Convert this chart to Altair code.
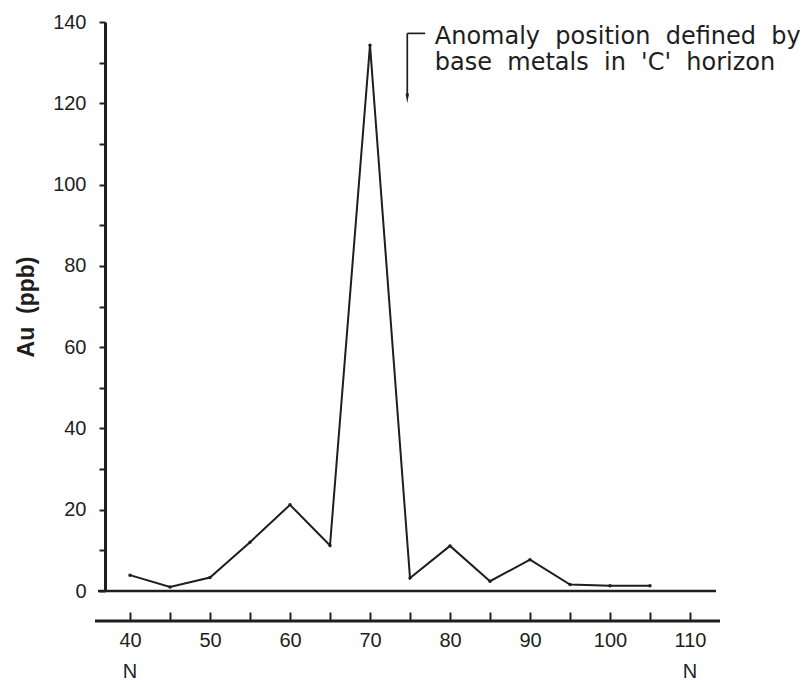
import altair as alt
import pandas as pd

# ---- data ----
stations = [40, 45, 50, 55, 60, 65, 70, 75, 80, 85, 90, 95, 100, 105]
au_ppb = [3.9, 1.0, 3.3, 12.0, 21.2, 11.2, 134.3, 3.2, 11.1, 2.4, 7.7, 1.6, 1.3, 1.3]
x_ticks = list(range(40, 111, 5))
y_ticks = list(range(0, 141, 10))
end_pos = [40, 110]
end_text = ["N", "N"]
NB = "\u00a0"
note_lines = [
    f"Anomaly{NB}{NB}position{NB}{NB}defined{NB}{NB}by",
    f"base{NB}{NB}metals{NB}{NB}in{NB}{NB}'C'{NB}{NB}horizon",
]
note_x = 78.1
note_y = [134.6, 128.3]
arrow_x = 74.66
arrow_top = 137.2
arrow_tip = 120.1
bracket_end = 76.9

X_DOM = [36.875, 113.5]
Y_DOM = [0, 140]
W, H = 613, 569

df = pd.DataFrame({"station": stations, "au": au_ppb})

xs = alt.Scale(domain=X_DOM, nice=False, zero=False)
ys = alt.Scale(domain=Y_DOM, nice=False, zero=False)

INK = "#1e1e1e"

xaxis = alt.Axis(
    values=x_ticks,
    labelExpr="datum.value % 10 == 0 ? datum.label : ''",
    offset=21, tickSize=8.5, tickWidth=2, tickColor=INK,
    domain=False, grid=False, labelPadding=10,
    labelFont="Liberation Sans", labelFontSize=20, labelColor=INK,
    title=None,
)
yaxis = alt.Axis(
    values=y_ticks,
    labelExpr="datum.value % 20 == 0 ? datum.label : ''",
    tickSize=6, tickWidth=2, tickColor=INK,
    domain=True, domainColor=INK, domainWidth=3, grid=False,
    labelPadding=13, labelFont="Liberation Sans", labelFontSize=20, labelColor=INK,
    title=f"Au{NB}{NB}(ppb)", titleFont="Liberation Sans", titleFontSize=23,
    titleFontWeight="bold", titleColor=INK, titlePadding=14,
)

line = alt.Chart(df).mark_line(
    color=INK, strokeWidth=2,
    point=alt.OverlayMarkDef(filled=True, color=INK, size=12),
).encode(
    x=alt.X("station:Q", scale=xs, axis=xaxis),
    y=alt.Y("au:Q", scale=ys, axis=yaxis),
)

baseline = alt.Chart(pd.DataFrame({"a": [0]})).mark_rule(color=INK, strokeWidth=2.6).encode(
    x=alt.datum(36.0, scale=xs), x2=alt.datum(113.25), y=alt.datum(0, scale=ys)
)

lower_axis = alt.Chart(pd.DataFrame({"a": [0]})).mark_rule(color=INK, strokeWidth=3).encode(
    x=alt.datum(35.625, scale=xs), x2=alt.datum(113.75), y=alt.value(H + 30)
)

ends = alt.Chart(pd.DataFrame({"pos": end_pos, "t": end_text})).mark_text(
    font="Liberation Sans", fontSize=20, color=INK, baseline="middle"
).encode(
    x=alt.X("pos:Q", scale=xs), y=alt.value(H + 81), text="t:N"
)

note = alt.Chart(pd.DataFrame({"t": note_lines, "y": note_y})).mark_text(
    font="DejaVu Sans", fontSize=24, color=INK, align="left", baseline="alphabetic"
).encode(
    x=alt.datum(note_x, scale=xs), y=alt.Y("y:Q", scale=ys), text="t:N"
)

arrow_v = alt.Chart(pd.DataFrame({"a": [0]})).mark_rule(color=INK, strokeWidth=1.7).encode(
    x=alt.datum(arrow_x, scale=xs), y=alt.datum(arrow_top, scale=ys), y2=alt.datum(arrow_tip + 1.5)
)
arrow_h = alt.Chart(pd.DataFrame({"a": [0]})).mark_rule(color=INK, strokeWidth=1.7).encode(
    x=alt.datum(arrow_x, scale=xs), x2=alt.datum(bracket_end), y=alt.datum(arrow_top, scale=ys)
)
arrow_head = alt.Chart(pd.DataFrame({"a": [0]})).mark_point(
    shape="M-0.35,-1L0.35,-1L0,1Z", filled=True, color=INK, size=95, opacity=1
).encode(
    x=alt.datum(arrow_x, scale=xs), y=alt.datum(arrow_tip + 1.1, scale=ys)
)

chart = alt.layer(baseline, lower_axis, line, ends, note, arrow_v, arrow_h, arrow_head).properties(
    width=W, height=H,
    autosize=alt.AutoSizeParams(type="none"),
    padding={"left": 97, "top": 14, "right": 85, "bottom": 90},
    background="white",
).configure_view(stroke=None)

chart.save("out.html", embed_options={"renderer": "svg", "actions": False})
